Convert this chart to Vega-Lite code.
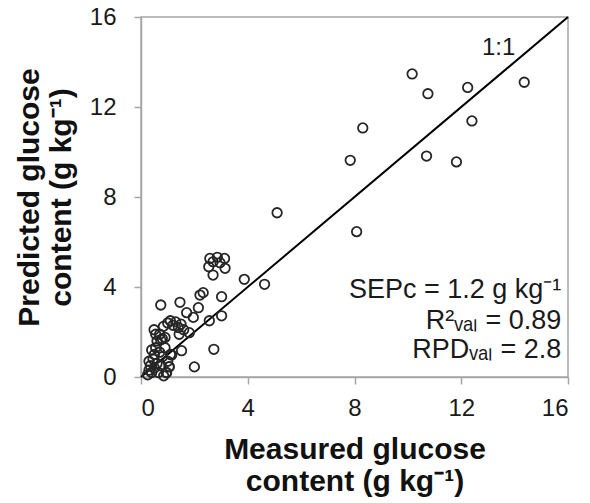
{
  "$schema": "https://vega.github.io/schema/vega-lite/v6.json",
  "width": 427,
  "height": 360,
  "autosize": {"type": "none"},
  "padding": {"left": 141, "top": 17, "right": 22, "bottom": 126},
  "background": "white",
  "config": {
    "font": "Liberation Sans",
    "view": {"stroke": "#a6a6a6", "strokeWidth": 1.5},
    "axis": {
      "grid": false,
      "domainColor": "#a6a6a6",
      "domainWidth": 1.5,
      "tickColor": "#a6a6a6",
      "tickWidth": 1.5,
      "tickSize": 7,
      "labelFontSize": 24,
      "labelColor": "#1a1a1a",
      "titleFontSize": 30,
      "titleFontWeight": "bold",
      "titleColor": "#111111",
      "titleLineHeight": 32
    }
  },
  "datasets": {
    "samples": [
      {"measured": 0.25, "predicted": 0.1}, {"measured": 0.3, "predicted": 0.3}, {"measured": 0.35, "predicted": 0.5},
      {"measured": 0.4, "predicted": 0.2}, {"measured": 0.45, "predicted": 0.8}, {"measured": 0.5, "predicted": 0.4},
      {"measured": 0.5, "predicted": 1.0}, {"measured": 0.55, "predicted": 1.3}, {"measured": 0.6, "predicted": 0.6},
      {"measured": 0.6, "predicted": 1.6}, {"measured": 0.65, "predicted": 0.2}, {"measured": 0.7, "predicted": 1.1},
      {"measured": 0.75, "predicted": 0.5}, {"measured": 0.8, "predicted": 1.7}, {"measured": 0.8, "predicted": 0.9},
      {"measured": 0.85, "predicted": 0.05}, {"measured": 0.9, "predicted": 1.3}, {"measured": 0.95, "predicted": 0.2},
      {"measured": 1.0, "predicted": 0.7}, {"measured": 1.05, "predicted": 0.45}, {"measured": 1.1, "predicted": 1.0},
      {"measured": 0.4, "predicted": 1.2}, {"measured": 0.3, "predicted": 0.7}, {"measured": 0.55, "predicted": 1.9},
      {"measured": 0.7, "predicted": 1.9}, {"measured": 0.49, "predicted": 2.1}, {"measured": 0.84, "predicted": 2.25},
      {"measured": 0.74, "predicted": 1.65}, {"measured": 0.9, "predicted": 1.76}, {"measured": 1.0, "predicted": 2.4},
      {"measured": 1.1, "predicted": 2.5}, {"measured": 1.2, "predicted": 2.3}, {"measured": 1.3, "predicted": 2.45},
      {"measured": 1.4, "predicted": 2.2}, {"measured": 1.5, "predicted": 2.35}, {"measured": 1.6, "predicted": 2.1},
      {"measured": 1.43, "predicted": 1.9}, {"measured": 1.81, "predicted": 1.97}, {"measured": 1.71, "predicted": 2.86},
      {"measured": 1.96, "predicted": 2.65}, {"measured": 2.56, "predicted": 2.5}, {"measured": 3.02, "predicted": 2.72},
      {"measured": 2.15, "predicted": 3.08}, {"measured": 1.46, "predicted": 3.32}, {"measured": 0.74, "predicted": 3.2},
      {"measured": 2.21, "predicted": 3.64}, {"measured": 2.33, "predicted": 3.75}, {"measured": 3.02, "predicted": 3.57},
      {"measured": 1.52, "predicted": 1.17}, {"measured": 2.73, "predicted": 1.23}, {"measured": 2.0, "predicted": 0.45},
      {"measured": 0.96, "predicted": 0.19}, {"measured": 1.15, "predicted": 0.98}, {"measured": 1.06, "predicted": 0.46},
      {"measured": 2.58, "predicted": 5.27}, {"measured": 2.86, "predicted": 5.32}, {"measured": 3.13, "predicted": 5.27},
      {"measured": 2.7, "predicted": 5.12}, {"measured": 2.96, "predicted": 5.08}, {"measured": 2.54, "predicted": 4.9},
      {"measured": 3.15, "predicted": 4.83}, {"measured": 2.7, "predicted": 4.53}, {"measured": 3.87, "predicted": 4.34},
      {"measured": 4.63, "predicted": 4.12}, {"measured": 5.1, "predicted": 7.3}, {"measured": 7.84, "predicted": 9.63},
      {"measured": 8.08, "predicted": 6.46}, {"measured": 8.31, "predicted": 11.07}, {"measured": 10.16, "predicted": 13.47},
      {"measured": 10.75, "predicted": 12.59}, {"measured": 10.7, "predicted": 9.82}, {"measured": 11.82, "predicted": 9.56},
      {"measured": 12.24, "predicted": 12.87}, {"measured": 12.4, "predicted": 11.38}, {"measured": 14.36, "predicted": 13.1}
    ],
    "identity": [
      {"measured": 0, "predicted": 0},
      {"measured": 16, "predicted": 16}
    ],
    "notes": [
      {"measured": 13.4, "predicted": 14.31, "label": "1:1"}
    ],
    "stats": [
      {"measured": 15.75, "predicted": 3.5, "label": "SEPc = 1.2 g kg⁻¹"},
      {"measured": 15.75, "predicted": 2.12, "label": "R²ᵥₐₗ = 0.89"},
      {"measured": 15.75, "predicted": 0.84, "label": "RPDᵥₐₗ = 2.8"}
    ]
  },
  "encoding": {
    "x": {
      "field": "measured",
      "type": "quantitative",
      "scale": {"domain": [0, 16], "nice": false},
      "axis": {
        "values": [0, 4, 8, 12, 16],
        "labelPadding": 12,
        "title": ["Measured glucose", "content (g kg⁻¹)"],
        "titleBaseline": "top",
        "titleAlign": "center",
        "titleAnchor": "middle",
        "titleX": 213.5,
        "titleY": 57
      }
    },
    "y": {
      "field": "predicted",
      "type": "quantitative",
      "scale": {"domain": [0, 16], "nice": false},
      "axis": {
        "values": [0, 4, 8, 12, 16],
        "labelPadding": 18,
        "title": ["Predicted glucose", "content (g kg⁻¹)"],
        "titleAngle": -90,
        "titleBaseline": "top",
        "titleAlign": "center",
        "titleAnchor": "middle",
        "titleX": -127,
        "titleY": 180
      }
    }
  },
  "layer": [
    {
      "data": {"name": "identity"},
      "mark": {"type": "line", "color": "#000000", "strokeWidth": 2}
    },
    {
      "data": {"name": "samples"},
      "mark": {"type": "point", "shape": "circle", "filled": false, "size": 90, "strokeWidth": 1.8, "color": "#262626", "opacity": 1}
    },
    {
      "data": {"name": "notes"},
      "mark": {"type": "text", "fontSize": 24, "align": "center", "baseline": "alphabetic", "color": "#1a1a1a"},
      "encoding": {"text": {"field": "label"}}
    },
    {
      "data": {"name": "stats"},
      "mark": {"type": "text", "fontSize": 27, "align": "right", "baseline": "alphabetic", "color": "#1a1a1a"},
      "encoding": {"text": {"field": "label"}}
    }
  ]
}
